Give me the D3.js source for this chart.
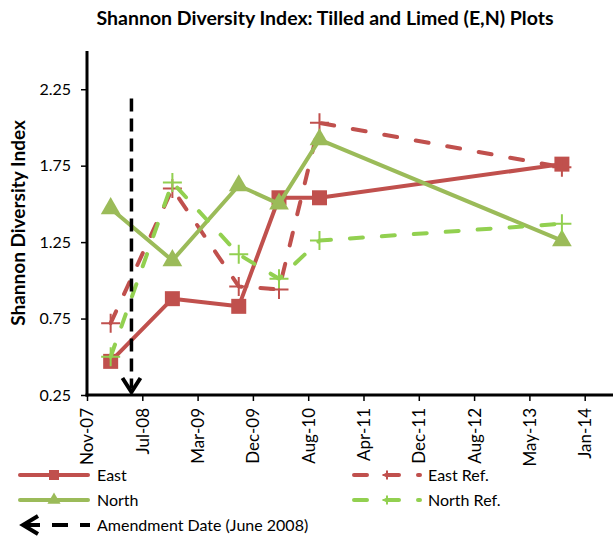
<!DOCTYPE html>
<html lang='en'>
<head>
  <meta charset='UTF-8'>
  <title>Shannon Diversity Index</title>
  <script src="https://d3js.org/d3.v7.min.js"></script>
  <style>
    body { margin: 0; background: #fff; }
    svg { font-family: Lato, 'Open Sans', sans-serif; }
  </style>
</head>
<body>
  <div id="chart"></div>
  <script>
    // data
    const sampleDates = ['2008-03-01', '2008-12-05', '2009-10-01', '2010-04-01', '2010-10-01', '2013-10-01'];
    const east = [0.47, 0.88, 0.83, 1.54, 1.54, 1.76];
    const eastRef = [0.72, 1.60, 0.96, 0.94, 2.03, 1.74];
    const north = [1.47, 1.13, 1.62, 1.50, 1.92, 1.26];
    const northRef = [0.50, 1.64, 1.17, 1.01, 1.26, 1.37];
    const amendmentDate = '2008-06-03';
    const amendmentTop = 2.19;

    const xTickDates = ['2007-11-15', '2008-07-22', '2009-03-29', '2009-12-04', '2010-08-11',
      '2011-04-18', '2011-12-24', '2012-08-30', '2013-05-07', '2014-01-12'];
    const xTickLabels = ['Nov-07', 'Jul-08', 'Mar-09', 'Dec-09', 'Aug-10', 'Apr-11', 'Dec-11', 'Aug-12', 'May-13', 'Jan-14'];
    const xDomain = ['2007-11-15', '2014-05-20'];
    const yTicks = [0.25, 0.75, 1.25, 1.75, 2.25];
    const yDomain = [0.25, 2.5];

    const parse = d3.timeParse('%Y-%m-%d');
    const red = '#C0504D';
    const green = '#9BBB59';
    const lightGreen = '#92D050';

    const width = 615;
    const height = 540;
    const margin = { left: 87, right: 2, top: 51, bottom: 145 };

    const svg = d3.select('#chart')
      .append('svg')
      .attr('width', width)
      .attr('height', height);

    svg.append('rect').attr('width', width).attr('height', height).attr('fill', '#fff');

    const xScale = d3.scaleTime()
      .domain(xDomain.map(parse))
      .range([margin.left, width - margin.right]);

    const yScale = d3.scaleLinear()
      .domain(yDomain)
      .range([height - margin.bottom, margin.top]);

    // title
    svg.append('text')
      .attr('x', 325)
      .attr('y', 25)
      .attr('text-anchor', 'middle')
      .attr('font-weight', 'bold')
      .attr('font-size', 19.5)
      .text('Shannon Diversity Index: Tilled and Limed (E,N) Plots');

    svg.append('text')
      .attr('transform', `translate(25, ${(margin.top + height - margin.bottom) / 2}) rotate(-90)`)
      .attr('text-anchor', 'middle')
      .attr('font-weight', 'bold')
      .attr('font-size', 19)
      .text('Shannon Diversity Index');

    // axes
    const yAxis = d3.axisLeft(yScale)
      .tickValues(yTicks)
      .tickFormat(d3.format('.2f'))
      .tickSize(6)
      .tickSizeOuter(0);

    const gy = svg.append('g')
      .attr('transform', `translate(${margin.left}, 0)`)
      .call(yAxis);
    gy.select('.domain').attr('stroke-width', 3).attr('d', `M0,${margin.top}V${height - margin.bottom + 1.5}`);
    gy.selectAll('.tick line').attr('stroke-width', 1.5);
    gy.selectAll('.tick text').attr('font-size', 16).attr('fill', '#000').attr('x', -16).attr('font-family', 'Lato');

    const xAxis = d3.axisBottom(xScale)
      .tickValues(xTickDates.map(parse))
      .tickFormat((d, i) => xTickLabels[i])
      .tickSize(6)
      .tickSizeOuter(0);

    const gx = svg.append('g')
      .attr('transform', `translate(0, ${height - margin.bottom})`)
      .call(xAxis);
    gx.select('.domain').attr('stroke-width', 3).attr('d', `M${margin.left - 1.5},0H${width - margin.right}`);
    gx.selectAll('.tick line').attr('stroke-width', 1.5);
    gx.selectAll('.tick text')
      .attr('font-size', 17)
      .attr('fill', '#000')
      .attr('font-family', 'Lato')
      .attr('transform', 'rotate(-90)')
      .attr('text-anchor', 'end')
      .attr('x', -13)
      .attr('y', 0)
      .attr('dy', '0.35em');

    // series
    const series = [
      { name: 'East', values: east, color: red, dash: null, marker: 'square' },
      { name: 'East Ref.', values: eastRef, color: red, dash: '13,19', marker: 'plus' },
      { name: 'North', values: north, color: green, dash: null, marker: 'triangle' },
      { name: 'North Ref.', values: northRef, color: lightGreen, dash: '13,19', marker: 'plus' },
    ];

    const line = d3.line()
      .x((d) => xScale(d.date))
      .y((d) => yScale(d.value));

    function markerPath(type, s) {
      if (type === 'square') return d3.symbol(d3.symbolSquare, s * s)();
      if (type === 'triangle') return d3.symbol(d3.symbolTriangle, s * s * 0.75)();
      const h = s / 2;
      return `M${-h},0H${h}M0,${-h}V${h}`;
    }

    series.forEach((s) => {
      const data = s.values.map((v, i) => ({ date: parse(sampleDates[i]), value: v }));
      const g = svg.append('g');
      g.append('path')
        .datum(data)
        .attr('fill', 'none')
        .attr('stroke', s.color)
        .attr('stroke-width', 4)
        .attr('stroke-linecap', s.dash ? 'round' : 'butt')
        .attr('stroke-linejoin', 'round')
        .attr('stroke-dasharray', s.dash)
        .attr('d', line);
      g.selectAll('.m')
        .data(data)
        .join('path')
        .attr('transform', (d) => `translate(${xScale(d.date)}, ${yScale(d.value)})`)
        .attr('d', markerPath(s.marker, s.marker === 'plus' ? 19 : 15))
        .attr('fill', s.marker === 'plus' ? 'none' : s.color)
        .attr('stroke', s.marker === 'plus' ? s.color : 'none')
        .attr('stroke-width', 2);
    });

    // amendment arrow
    const ax = xScale(parse(amendmentDate));
    const ay0 = yScale(amendmentTop);
    const ay1 = yScale(yDomain[0]) - 3;
    svg.append('line')
      .attr('x1', ax).attr('x2', ax)
      .attr('y1', ay0).attr('y2', ay1 - 4)
      .attr('stroke', '#000')
      .attr('stroke-width', 3.5)
      .attr('stroke-dasharray', '13,7');
    svg.append('path')
      .attr('d', `M${ax - 9},${ay1 - 14}L${ax},${ay1}L${ax + 9},${ay1 - 14}`)
      .attr('fill', 'none')
      .attr('stroke', '#000')
      .attr('stroke-width', 4);

    // legend
    const legend = svg.append('g').attr('font-size', 16);
    const rows = [475, 500, 525];

    function legendEntry(s, x0, x1, tx, y) {
      legend.append('line')
        .attr('x1', x0).attr('x2', x1)
        .attr('y1', y).attr('y2', y)
        .attr('stroke', s.color)
        .attr('stroke-width', 4)
        .attr('stroke-linecap', 'round')
        .attr('stroke-dasharray', s.dash);
      legend.append('path')
        .attr('transform', `translate(${(x0 + x1) / 2}, ${y})`)
        .attr('d', markerPath(s.marker, s.marker === 'plus' ? 9 : 10))
        .attr('fill', s.marker === 'plus' ? 'none' : s.color)
        .attr('stroke', s.marker === 'plus' ? s.color : 'none')
        .attr('stroke-width', 2);
      legend.append('text')
        .attr('x', tx).attr('y', y)
        .attr('dy', '0.35em')
        .text(s.name);
    }

    legendEntry(series[0], 20, 88, 97, rows[0]);
    legendEntry(series[2], 20, 88, 97, rows[1]);
    legendEntry(series[1], 354, 420, 428, rows[0]);
    legendEntry(series[3], 354, 420, 428, rows[1]);

    legend.append('line')
      .attr('x1', 24).attr('x2', 90)
      .attr('y1', rows[2]).attr('y2', rows[2])
      .attr('stroke', '#000')
      .attr('stroke-width', 4)
      .attr('stroke-dasharray', '16,12');
    legend.append('path')
      .attr('d', `M${38},${rows[2] - 9}L${23},${rows[2]}L${38},${rows[2] + 9}`)
      .attr('fill', 'none')
      .attr('stroke', '#000')
      .attr('stroke-width', 4);
    legend.append('text')
      .attr('x', 97).attr('y', rows[2])
      .attr('dy', '0.35em')
      .text('Amendment Date (June 2008)');
  </script>
</body>
</html>
